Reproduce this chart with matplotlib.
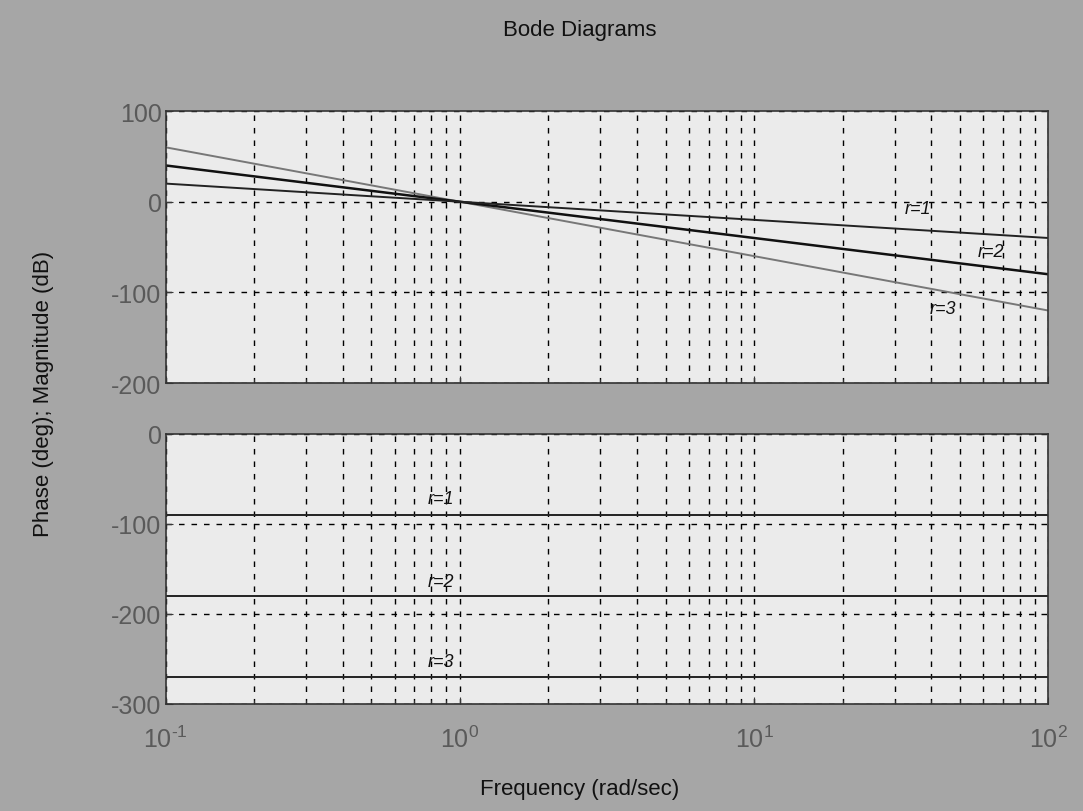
import numpy as np
import matplotlib
matplotlib.use("Agg")
import matplotlib.pyplot as plt
from matplotlib.ticker import LogLocator, NullFormatter

plt.rcParams['font.family'] = ['Liberation Sans', 'DejaVu Sans']
plt.rcParams['axes.unicode_minus'] = False
plt.rcParams['mathtext.fontset'] = 'custom'
plt.rcParams['mathtext.rm'] = 'Liberation Sans'
plt.rcParams['mathtext.it'] = 'Liberation Sans:italic'

# frequency grid (rad/sec) and the readings at both ends
freq_ends = [0.1, 100.0]
mag_r1 = [20, -40]
mag_r2 = [40, -80]
mag_r3 = [60, -120]
phase_r1 = [-90, -90]
phase_r2 = [-180, -180]
phase_r3 = [-270, -270]

mag_labels = [("r=1", 36, -8), ("r=2", 64, -55), ("r=3", 44, -118)]
phase_labels = [("r=1", 0.86, -72), ("r=2", 0.86, -164), ("r=3", 0.86, -253)]
xtick_vals = [0.1, 1, 10, 100]
xtick_txt = [r'$10^{\text{-}1}$', r'$10^{0}$', r'$10^{1}$', r'$10^{2}$']

BG = '#a6a6a6'
FACE = '#ebebeb'
TICKCOL = '#3a3a3a'

fig = plt.figure(figsize=(10.83, 8.12), dpi=100, facecolor=BG)
ax1 = fig.add_axes([0.153, 0.527, 0.815, 0.335])
ax2 = fig.add_axes([0.153, 0.132, 0.815, 0.3325])


def style(ax, ylim, yticks):
    ax.set_facecolor(FACE)
    ax.set_xscale('log')
    ax.set_xlim(0.1, 100)
    ax.set_ylim(*ylim)
    ax.set_yticks(yticks)
    ax.xaxis.set_minor_locator(LogLocator(base=10, subs=np.arange(2, 10)))
    ax.xaxis.set_minor_formatter(NullFormatter())
    ax.grid(True, which='both', axis='x', color='black', linestyle=(0, (4, 5)), linewidth=1.0)
    ax.grid(True, which='major', axis='y', color='black', linestyle=(0, (4, 5)), linewidth=1.0)
    ax.tick_params(which='both', direction='in', colors=TICKCOL, labelsize=18, length=5, pad=3)
    ax.tick_params(which='minor', length=3)
    ax.tick_params(axis='both', labelcolor='#5a5a5a')
    for s in ax.spines.values():
        s.set_color('#333333')
        s.set_linewidth(1.2)


style(ax1, (-200, 100), [-200, -100, 0, 100])
ax1.plot(freq_ends, mag_r3, color='#777777', linewidth=1.4)
ax1.plot(freq_ends, mag_r2, color='#111111', linewidth=1.8)
ax1.plot(freq_ends, mag_r1, color='#222222', linewidth=1.4)
ax1.set_xticklabels([])
for txt, x, y in mag_labels:
    ax1.text(x, y, txt, fontsize=13, style='italic', ha='center', va='center', color='#111111')

style(ax2, (-300, 0), [-300, -200, -100, 0])
ax2.plot(freq_ends, phase_r1, color='#222222', linewidth=1.4)
ax2.plot(freq_ends, phase_r2, color='#222222', linewidth=1.4)
ax2.plot(freq_ends, phase_r3, color='#222222', linewidth=1.4)
ax2.set_xticks(xtick_vals)
ax2.set_xticklabels(xtick_txt)
ax2.tick_params(axis='x', pad=16)
for txt, x, y in phase_labels:
    ax2.text(x, y, txt, fontsize=13, style='italic', ha='center', va='center', color='#111111')

fig.text(0.535, 0.962, 'Bode Diagrams', ha='center', va='center', fontsize=16, color='#111111')
fig.text(0.535, 0.028, 'Frequency (rad/sec)', ha='center', va='center', fontsize=16, color='#111111')
fig.text(0.04, 0.515, 'Phase (deg); Magnitude (dB)', ha='center', va='center',
         rotation=90, fontsize=16, color='#111111')

fig.savefig('out.png', dpi=100, facecolor=BG)
